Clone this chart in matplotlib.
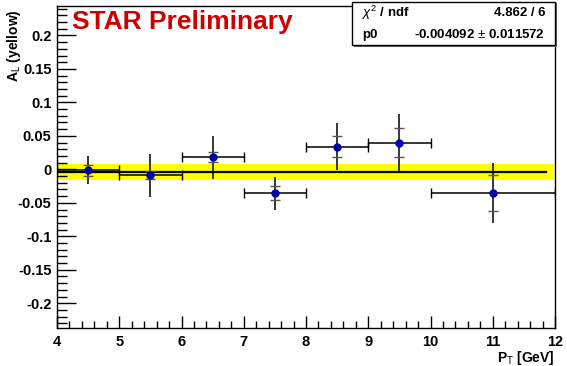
import numpy as np
import matplotlib
matplotlib.use("Agg")
import matplotlib.pyplot as plt
from matplotlib.patches import Rectangle
from matplotlib.ticker import MultipleLocator

# data
pt = [4.5, 5.5, 6.5, 7.5, 8.5, 9.5, 11.0]
pt_err = [0.5, 0.5, 0.5, 0.5, 0.5, 0.5, 1.0]
al = [-0.0015, -0.009, 0.018, -0.036, 0.034, 0.040, -0.035]
err_tot = [0.021, 0.032, 0.032, 0.024, 0.035, 0.043, 0.045]
err_in = [0.008, 0.006, 0.0075, 0.0105, 0.016, 0.022, 0.027]
p0 = -0.004092
p0_err = 0.011572
chi2_text = "4.862 / 6"
p0_text = "-0.004092 $\\pm$ 0.011572"

plt.rcParams["font.family"] = ["Liberation Sans", "DejaVu Sans"]
plt.rcParams["mathtext.fontset"] = "custom"
plt.rcParams["mathtext.rm"] = "Liberation Sans"
plt.rcParams["mathtext.it"] = "Liberation Sans:italic"
plt.rcParams["mathtext.bf"] = "Liberation Sans:bold"

fig = plt.figure(figsize=(5.67, 3.66), dpi=100)
ax = fig.add_axes([57/567, 1-328/366, 498/567, 322/366])

ax.fill_between([4, 11.98], p0-p0_err, p0+p0_err, color="#ffff00", lw=0, zorder=1)
ax.plot([4, 11.85], [p0, p0], color="black", lw=1.6, zorder=2)

ax.errorbar(pt, al, xerr=pt_err, fmt="none", ecolor="black", elinewidth=1.1,
            capsize=3.3, capthick=1.0, zorder=3)
ax.errorbar(pt, al, yerr=err_tot, fmt="none", ecolor="black", elinewidth=1.1,
            capsize=0, zorder=3)
ax.errorbar(pt, al, yerr=err_in, fmt="none", ecolor="#555555", elinewidth=0,
            capsize=3.6, capthick=1.0, zorder=3)
ax.plot(pt, al, "o", color="#0000aa", ms=5, zorder=4)

ax.set_xlim(4, 12)
ax.set_ylim(-0.237, 0.244)
ax.xaxis.set_minor_locator(MultipleLocator(0.2))
ax.yaxis.set_minor_locator(MultipleLocator(0.01))
ax.tick_params(axis="x", which="major", direction="in", length=9, width=1, pad=5)
ax.tick_params(axis="x", which="minor", direction="in", length=5, width=1)
ax.tick_params(axis="y", which="major", direction="in", length=14, width=1, pad=4)
ax.tick_params(axis="y", which="minor", direction="in", length=7, width=1)
ax.tick_params(labelsize=10.5)
ax.set_yticks([-0.2, -0.15, -0.1, -0.05, 0, 0.05, 0.1, 0.15, 0.2])
ax.set_yticklabels(["-0.2", "-0.15", "-0.1", "-0.05", "0", "0.05", "0.1", "0.15", "0.2"],
                   fontweight="bold")
ax.set_xticks([4, 5, 6, 7, 8, 9, 10, 11, 12])
ax.set_xticklabels(["4", "5", "6", "7", "8", "9", "10", "11", "12"], fontweight="bold")
for s in ax.spines.values():
    s.set_linewidth(1)

fig.text(555/567, 1-358/366, "P$_{\\mathrm{T}}$ [GeV]", ha="right", va="center",
         fontsize=10, fontweight="bold")
fig.text(14/567, 1-9/366, "A$_{\\mathrm{L}}$ (yellow)", ha="center", va="top",
         rotation=90, fontsize=10, fontweight="bold")

fig.text(72/567, 1-22/366, "STAR Preliminary", ha="left", va="center",
         fontsize=19, fontweight="bold", color="#cc0000")

# stats box
bx0, bx1, by0, by1 = 352/567, 555/567, 1-45/366, 1-2/366
fig.patches.append(Rectangle((bx0+1.5/567, by0-1.5/366), bx1-bx0, by1-by0,
                             transform=fig.transFigure, facecolor="#666666",
                             edgecolor="none", zorder=5))
fig.patches.append(Rectangle((bx0, by0), bx1-bx0, by1-by0, transform=fig.transFigure,
                             facecolor="white", edgecolor="black", lw=1, zorder=6))
fig.text(362/567, 1-13/366, "$\\chi^{2}$ / ndf", ha="left", va="center",
         fontsize=9.5, fontweight="bold", zorder=7)
fig.text(545/567, 1-13/366, chi2_text, ha="right", va="center",
         fontsize=9.5, fontweight="bold", zorder=7)
fig.text(362/567, 1-35/366, "p0", ha="left", va="center",
         fontsize=9.5, fontweight="bold", zorder=7)
fig.text(545/567, 1-35/366, p0_text, ha="right", va="center",
         fontsize=9.5, fontweight="bold", zorder=7)

fig.savefig("out.png", dpi=100)
